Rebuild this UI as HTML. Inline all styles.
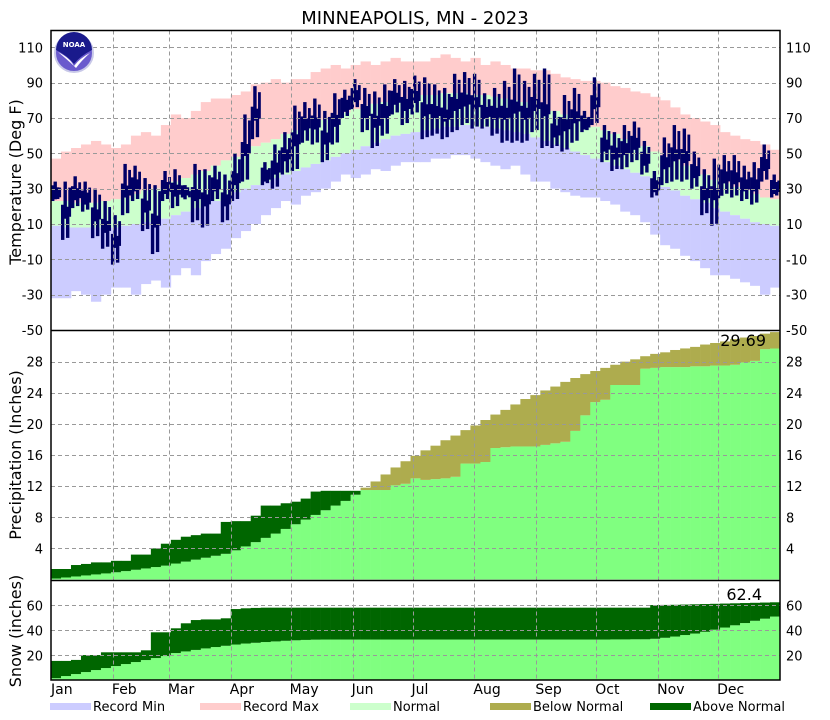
<!DOCTYPE html>
<html><head><meta charset="utf-8"><style>
body{margin:0;background:#fff;}
svg{display:block;font-family:"DejaVu Sans","Liberation Sans",sans-serif;}
</style></head><body>
<svg id="chart" width="830" height="720" viewBox="0 0 830 720" xmlns="http://www.w3.org/2000/svg">
<rect x="0" y="0" width="830" height="720" fill="#fff"/>
<text x="415" y="24" font-size="18" text-anchor="middle" fill="#000">MINNEAPOLIS, MN - 2023</text>
<g id="temp"></g>
<g id="prcp"></g>
<g id="snow"></g>
<g id="grid"></g>
<g id="axes"></g>
<g>
<circle cx="74" cy="53" r="19" fill="#6a5acd" stroke="#c8c8e8" stroke-width="2"/>
<path d="M56 50 A18 18 0 0 1 92 50 Q80 56 74 64 Q68 56 56 50Z" fill="#1a1a8c"/>
<path d="M58 52 Q70 58 74 66 Q80 58 90 53 Q82 60 76 68 Q70 62 58 52Z" fill="#fff"/>
<text x="74" y="47" font-size="7" font-weight="bold" fill="#fff" text-anchor="middle">NOAA</text>
</g>
<text transform="translate(21,182) rotate(-90)" font-size="16" text-anchor="middle">Temperature (Deg F)</text>
<text transform="translate(21,455) rotate(-90)" font-size="16" text-anchor="middle">Precipitation (Inches)</text>
<text transform="translate(21,631) rotate(-90)" font-size="16" text-anchor="middle">Snow (inches)</text>
<text x="766" y="346" font-size="16" text-anchor="end">29.69</text>
<text x="762" y="600" font-size="16" text-anchor="end">62.4</text>
<g id="months"></g>
<g id="legend"></g>
</svg>
<script>
const recMax=[47,51,53,55,57,55,53,55,60,62,60,66,72,70,74,79,81,81,83,85,89,90,92,90,92,92,96,98,100,98,100,102,100,102,104,102,102,102,104,106,104,102,104,100,102,100,98,98,97,97,95,93,92,91,91,90,88,87,85,84,82,80,76,72,70,68,66,62,60,58,57,55,52];
const recMin=[-32,-32,-28,-30,-34,-30,-26,-26,-30,-24,-22,-26,-19,-15,-19,-11,-7,-4,2,6,10,15,19,23,21,26,28,30,34,38,36,38,41,40,43,45,45,45,47,47,49,49,47,45,43,41,43,38,34,34,30,28,26,25,25,23,21,17,15,11,4,-2,-4,-8,-11,-15,-19,-19,-21,-23,-25,-30,-26];
const normHi=[23,23,22,22,22,23,24,25,27,29,30,32,34,36,38,40,43,46,48,51,54,56,58,61,63,65,67,69,71,73,75,77,78,79,80,81,82,83,83,84,84,84,83,83,82,81,80,79,77,76,74,72,70,68,65,63,61,58,56,54,51,48,46,43,40,38,35,33,31,29,27,25,24];
const normLo=[9,8,8,8,8,8,8,9,10,11,12,13,15,17,19,21,23,25,28,30,32,34,36,38,40,42,44,46,48,50,52,54,56,58,60,61,62,63,64,65,65,66,65,65,64,63,62,61,59,57,55,53,51,49,47,45,43,41,39,37,34,31,29,26,24,22,19,17,15,13,11,10,9];
const actHi=[34,34,37,34,30,23,15,44,43,36,32,40,41,32,44,41,43,38,50,72,88,45,55,62,77,79,81,74,84,86,92,87,85,89,92,91,94,93,89,87,95,96,95,84,87,91,98,91,95,98,74,83,87,74,93,66,62,66,68,57,40,59,66,64,51,41,47,49,49,43,45,55,38];
const actLo=[23,1,19,17,2,-4,-13,15,23,6,-7,23,19,25,11,8,23,11,23,34,58,32,30,38,40,56,55,45,55,70,75,62,53,60,72,66,72,58,60,58,62,66,64,64,60,56,56,56,62,53,53,51,56,62,66,45,40,41,45,38,25,32,34,34,30,15,9,26,25,23,21,34,25];
const prcpAct=[1.35,1.35,1.86,2.0,2.2,2.2,2.4,2.4,3.2,3.2,4.0,4.6,5.1,5.5,5.7,5.9,5.9,7.4,7.5,7.5,8.2,9.5,9.5,9.8,10.0,10.4,11.3,11.4,11.4,11.4,11.4,11.5,11.5,11.5,12.1,12.3,13.0,12.8,12.9,13.0,13.2,14.9,14.9,15.1,16.9,17.0,17.1,17.1,17.1,17.3,17.5,17.7,19.1,21.1,22.8,23.1,25.0,25.0,25.0,27.1,27.2,27.3,27.3,27.3,27.4,27.4,27.5,27.5,27.6,27.9,28.1,29.6,29.69];
const prcpNorm=[0.13,0.26,0.39,0.52,0.65,0.78,0.93,1.08,1.25,1.42,1.6,1.78,2.05,2.3,2.55,2.8,3.05,3.3,3.75,4.25,4.8,5.35,5.9,6.5,7.1,7.7,8.3,8.9,9.5,10.1,10.9,11.8,12.6,13.5,14.4,15.2,15.9,16.6,17.2,17.9,18.5,19.2,19.8,20.5,21.2,21.8,22.5,23.2,23.7,24.3,24.8,25.4,25.9,26.4,26.8,27.2,27.6,28,28.3,28.7,29,29.2,29.5,29.7,29.9,30.2,30.4,30.6,30.9,31.1,31.3,31.6,31.8];
const snowAct=[15.5,15.5,16.3,20.2,20.2,22.4,22.4,22.4,22.4,24,38.4,38.4,41.6,45.6,48.2,48.7,48.7,49.6,57,57.6,57.9,58.1,58.1,58.1,58.1,58.1,58.1,58.1,58.1,58.1,58.1,58.1,58.1,58.1,58.1,58.1,58.1,58.1,58.1,58.1,58.1,58.1,58.1,58.1,58.1,58.1,58.1,58.1,58.1,58.1,58.1,58.1,58.1,58.1,58.1,58.1,58.1,58.1,58.1,58.1,60.2,60.3,60.4,60.6,60.8,61,61.2,61.4,61.6,61.8,62,62.2,62.4];
const snowNorm=[1.7,3.4,5,6.6,8.2,9.8,11.4,13,14.6,16.2,17.8,19.4,21.8,23.1,24.3,25.5,26.6,27.6,28.6,29.4,30,30.6,31.1,31.6,32,32.3,32.5,32.6,32.6,32.6,32.6,32.6,32.6,32.6,32.6,32.6,32.6,32.6,32.6,32.6,32.6,32.6,32.6,32.6,32.6,32.6,32.6,32.6,32.6,32.6,32.6,32.6,32.6,32.6,32.6,32.6,32.7,32.7,32.8,32.8,33.2,34,35,36.2,37.4,38.8,40.5,42.2,44,45.8,47.6,49.3,51];
const months=["Jan","Feb","Mar","Apr","May","Jun","Jul","Aug","Sep","Oct","Nov","Dec"];
const monthStart=[0,31,59,90,120,151,181,212,243,273,304,334];
const tempTicks=[110,90,70,50,30,10,-10,-30,-50];
const prcpTicks=[28,24,20,16,12,8,4];
const snowTicks=[60,40,20];
const legendLabels=["Record Min","Record Max","Normal","Below Normal","Above Normal"];
const legendColors=["#ccccff","#ffcccc","#ccffcc","#aeac4e","#006600"];

const NS="http://www.w3.org/2000/svg";
const X0=51,X1=780,DAYS=365;
const xDay=d=>X0+d*(X1-X0)/DAYS;
const binW=(X1-X0)/recMax.length;
const xBin=i=>X0+i*binW;
const yT=t=>47.3+(110-t)*1.767;
const yP=p=>579.5-p*7.78;
const yS=s=>680.3-s*1.25;
function mk(tag,attrs,parent){const e=document.createElementNS(NS,tag);for(const k in attrs)e.setAttribute(k,attrs[k]);parent.appendChild(e);return e;}
function bar(g,x,w,a,b,fill,name){
  const y1=Math.min(a,b),y2=Math.max(a,b);
  const r=mk('rect',{x:x.toFixed(2),y:y1.toFixed(2),width:w.toFixed(2),height:Math.max(0,y2-y1).toFixed(2),fill:fill},g);
  
  
  return r;
}
function vbar(g,i,a,b,fill,name){return bar(g,xBin(i),binW+0.3,a,b,fill,name);}
const gT=document.getElementById('temp');
for(let i=0;i<recMax.length;i++){
  vbar(gT,i,yT(normHi[i]),yT(recMax[i]),'#ffcccc','record-max-bar');
  vbar(gT,i,yT(normLo[i]),yT(normHi[i]),'#ccffcc','normal-bar');
  vbar(gT,i,yT(recMin[i]),yT(normLo[i]),'#ccccff','record-min-bar');
}
for(let i=0;i<actHi.length;i++){
  const yh=yT(actHi[i]),yl=yT(actLo[i]),ym=(yh+yl)/2;
  const x=xBin(i);
  bar(gT,x,3.4,yl,ym-6,'#000066','observed-temp-bar');
  bar(gT,x+2.5,3.4,ym+8,yh,'#000066','observed-temp-bar');
  bar(gT,x+5,3.4,yl-2,ym-4,'#000066','observed-temp-bar');
  bar(gT,x+7.3,2.8,ym+6,yh+6,'#000066','observed-temp-bar');
}
function cum(g,act,norm,yf){
  for(let i=0;i<act.length;i++){
    const lo=Math.min(act[i],norm[i]),hi=Math.max(act[i],norm[i]);
    vbar(g,i,yf(0),yf(lo),'#80ff80','cumulative-bar');
    vbar(g,i,yf(lo),yf(hi),act[i]>=norm[i]?'#006600':'#aeac4e',act[i]>=norm[i]?'above-normal-bar':'below-normal-bar');
  }
}
cum(document.getElementById('prcp'),prcpAct,prcpNorm,yP);
cum(document.getElementById('snow'),snowAct,snowNorm,yS);

const gG=document.getElementById('grid');
const dash={stroke:'#999',"stroke-width":1,"stroke-dasharray":"4,3",fill:'none'};
for(let m=1;m<monthStart.length;m++){
  const x=Math.round(xDay(monthStart[m]))+0.5;
  const l=mk('line',Object.assign({x1:x,x2:x,y1:30.5,y2:680},dash),gG);
  
  
}
function hgrid(vals,yf){for(const v of vals){const y=Math.round(yf(v))+0.5;const l=mk('line',Object.assign({x1:X0,x2:X1,y1:y,y2:y},dash),gG);
  
  }}
hgrid(tempTicks.filter(t=>t>-50),yT);hgrid(prcpTicks,yP);hgrid(snowTicks,yS);

const gA=document.getElementById('axes');
const frame=mk('rect',{x:X0,y:30.5,width:X1-X0,height:680-30.5,fill:'none',stroke:'#000','stroke-width':1.5},gA);


for(const y of [330.5,580.5]){const l=mk('line',{x1:X0,x2:X1,y1:y,y2:y,stroke:'#000','stroke-width':1.5},gA);
  
  }
function ticks(vals,yf,name){for(const v of vals){
  const y=yf(v)+5;
  const a=mk('text',{x:43,y:y,'font-size':13,'text-anchor':'end'},gA);a.textContent=v;
  
  
  const b=mk('text',{x:786,y:y,'font-size':13},gA);b.textContent=v;
  
  
}}
ticks(tempTicks,yT,'temp');ticks(prcpTicks,yP,'precip');ticks(snowTicks,yS,'snow');

const gM=document.getElementById('months');
for(let m=0;m<months.length;m++){
  const t=mk('text',{x:xDay(monthStart[m])+(m===0?0:-1),y:694,'font-size':14},gM);t.textContent=months[m];
  
  
}
const gL=document.getElementById('legend');
const legendX=[50,200,350,490,650];
for(let i=0;i<legendLabels.length;i++){
  const lx=legendX[i];
  const r=mk('rect',{x:lx,y:703,width:41,height:7,fill:legendColors[i]},gL);
  
  
  const t=mk('text',{x:lx+43,y:711,'font-size':13},gL);t.textContent=legendLabels[i];
  
  
}
</script>
</body></html>
